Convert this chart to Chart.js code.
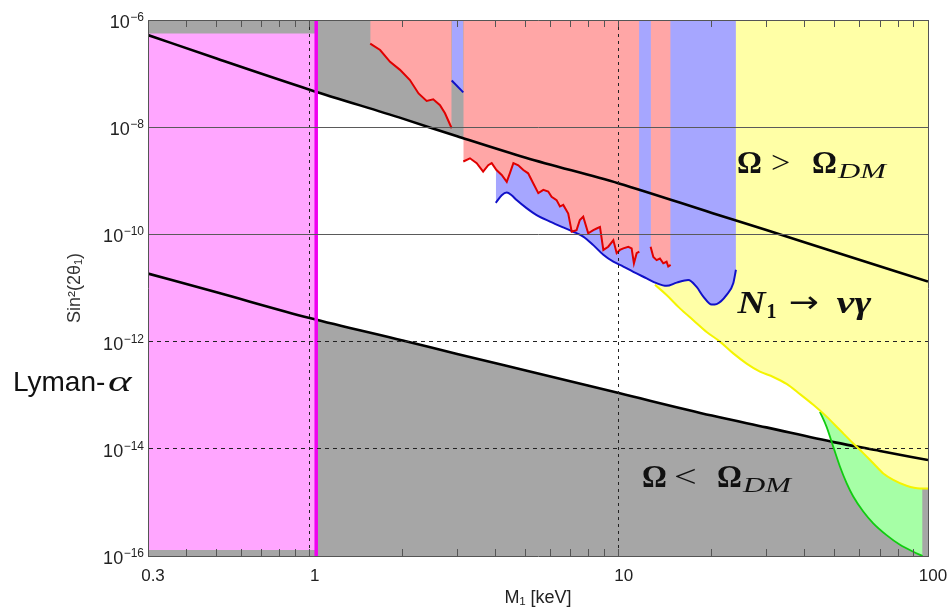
<!DOCTYPE html>
<html>
<head>
<meta charset="utf-8">
<title>Sterile neutrino dark matter constraints</title>
<script src="https://cdn.jsdelivr.net/npm/chart.js@4.4.1/dist/chart.umd.min.js"></script>
<style>
  html, body { margin: 0; padding: 0; background: #fff; }
  #wrap { position: relative; width: 949px; height: 609px; }
</style>
</head>
<body>
<div id="wrap"><canvas id="dmChart"></canvas></div>
<script>
// M1 in keV on x, sin^2(2 theta1) on y. y values are kept as log10 exponents.
var xMin = 0.3, xMax = 100;
var yMin = 1e-16, yMax = 1e-6;

var xTicks = [0.3, 0.4, 0.5, 0.6, 0.7, 0.8, 0.9, 1, 2, 3, 4, 5, 6, 7, 8, 9,
              10, 20, 30, 40, 50, 60, 70, 80, 90, 100];
var xLabelVals = [0.3, 1, 10, 100];
var yTickExps = [-6, -8, -10, -12, -14, -16];

// Omega = Omega_DM lines (upper and lower)
var upperX   = [0.3, 0.5, 1, 2, 3, 5, 10, 20, 30, 50, 100];
var upperExp = [-6.28, -6.72, -7.30, -7.84, -8.17, -8.57, -9.05, -9.60, -9.92, -10.33, -10.88];
var lowerX   = [0.3, 0.5, 1, 2, 3, 5, 10, 20, 30, 50, 70, 100];
var lowerExp = [-10.73, -11.08, -11.56, -11.98, -12.23, -12.54, -12.96, -13.38, -13.60, -13.88, -14.04, -14.21];

// Lyman-alpha box and its edge
var lymanX = [0.3, 1.05];
var lymanExp = [-6.25, -6.25];
var lymanBottomExp = -15.89;
var lymanEdgeX = [1.05, 1.05];
var lymanEdgeExp = [-6, -16];

// X-ray bounds (red)
var red1X   = [1.57, 1.69, 1.82, 1.96, 2.11, 2.25, 2.39, 2.51, 2.64, 2.74, 2.88];
var red1Exp = [-6.44, -6.56, -6.78, -6.93, -7.12, -7.37, -7.51, -7.48, -7.59, -7.74, -8.02];
var red2X   = [3.14, 3.30, 3.47, 3.64, 3.78, 3.88, 4.02, 4.18, 4.34, 4.44, 4.56, 4.73, 4.91, 5.09,
               5.29, 5.49, 5.70, 5.91, 6.06, 6.29, 6.45, 6.61, 6.86, 7.04, 7.30, 7.48, 7.67, 7.96,
               8.27, 8.48, 8.69, 8.91, 9.24, 9.60, 9.84, 10.08, 10.34, 10.73, 11.00, 11.19, 11.42, 11.65];
var red2Exp = [-8.64, -8.58, -8.67, -8.83, -8.71, -8.67, -8.80, -8.89, -9.02, -8.86, -8.67, -8.71, -8.80, -8.86,
               -9.05, -9.23, -9.17, -9.20, -9.30, -9.36, -9.48, -9.45, -9.61, -9.95, -9.92, -9.73, -9.67, -9.98,
               -9.92, -9.89, -9.86, -10.29, -10.23, -10.11, -10.35, -10.29, -10.26, -10.23, -10.26, -10.54, -10.35, -10.32];
var red3X   = [12.67, 12.93, 13.25, 13.58, 13.92, 14.27, 14.45, 14.71];
var red3Exp = [-10.23, -10.42, -10.48, -10.45, -10.54, -10.51, -10.60, -10.57];

// X-ray bounds (blue)
var blue1X   = [2.88, 3.14];
var blue1Exp = [-7.13, -7.35];
var blue2X   = [4.00, 4.18, 4.34, 4.50, 4.67, 5.03, 5.42, 5.99, 6.61, 7.12, 7.67, 8.27, 8.91, 9.60,
                10.34, 11.14, 12.30, 13.25, 14.27, 15.38, 16.77, 17.85, 18.76, 19.96, 20.72, 22.32, 23.45, 23.92];
var blue2Exp = [-9.41, -9.27, -9.22, -9.27, -9.36, -9.51, -9.64, -9.76, -9.87, -9.95, -10.04, -10.20, -10.38, -10.51,
                -10.60, -10.70, -10.82, -10.91, -10.96, -10.90, -10.85, -10.98, -11.16, -11.31, -11.30, -11.13, -10.91, -10.66];

// N1 -> nu gamma (yellow) and the green band
var yellowX   = [13.09, 14.27, 15.76, 17.41, 19.23, 21.23, 23.45, 25.90, 28.60, 31.59, 34.88, 38.53,
                 42.56, 46.99, 51.89, 57.31, 61.74, 66.52, 71.68, 77.21, 85.25, 94.17, 100];
var yellowExp = [-10.94, -11.13, -11.38, -11.60, -11.82, -12.00, -12.22, -12.41, -12.56, -12.66, -12.79, -12.98,
                 -13.18, -13.40, -13.65, -13.90, -14.08, -14.27, -14.46, -14.58, -14.69, -14.74, -14.74];
var greenX   = [44.72, 46.99, 49.37, 51.89, 54.54, 57.31, 61.74, 66.52, 73.45, 81.15, 89.62, 96.03];
var greenExp = [-13.31, -13.59, -13.96, -14.33, -14.64, -14.89, -15.17, -15.39, -15.61, -15.79, -15.92, -16.0];

function toPoints(xs, exps) {
    return xs.map(function(x, i) { return { x: x, y: Math.pow(10, exps[i]) }; });
}

function curve(label, xs, exps, line, area, fill, width, smooth) {
    return {
        label: label,
        data: toPoints(xs, exps),
        borderColor: line,
        backgroundColor: area,
        borderWidth: width,
        fill: fill,
        pointRadius: 0,
        cubicInterpolationMode: smooth ? 'monotone' : 'default',
        tension: 0
    };
}

var gray = '#a6a6a6';

// first dataset ends up on top
var datasets = [
    curve('X-ray 1', red1X, red1Exp, '#e00000', '#ffa6a6', 'end', 2, false),
    curve('X-ray 2', red2X, red2Exp, '#e00000', '#ffa6a6', 'end', 2, false),
    curve('X-ray 3', red3X, red3Exp, '#e00000', '#ffa6a6', 'end', 2, false),
    curve('X-ray 4', blue1X, blue1Exp, '#1010c8', '#a6a6ff', 'end', 2, false),
    curve('X-ray 5', blue2X, blue2Exp, '#1010c8', '#a6a6ff', 'end', 2, true),
    curve('N1 decay', yellowX, yellowExp, '#f4f400', '#ffffa6', 'end', 2, true),
    curve('Green band', greenX, greenExp, '#10cc10', '#a6ffa6', 'end', 1.8, true),
    curve('Lyman edge', lymanEdgeX, lymanEdgeExp, '#f000f0', 'rgba(0,0,0,0)', false, 3.5, false),
    curve('Lyman-alpha', lymanX, lymanExp, 'rgba(0,0,0,0)', '#ffa6ff', { value: Math.pow(10, lymanBottomExp) }, 0, false),
    curve('Omega upper', upperX, upperExp, '#000', gray, 'end', 2.6, true),
    curve('Omega lower', lowerX, lowerExp, '#000', gray, 'start', 2.6, true)
];

function tickExp(ctx) {
    return ctx.tick ? Math.round(Math.log10(ctx.tick.value)) : null;
}
function isDecadeLine(ctx) {
    if (!ctx.tick) return false;
    var v = ctx.tick.value;
    return Math.abs(v - 1) < 1e-9 || Math.abs(v - 10) < 1e-9;
}

function setXTicks(scale) {
    scale.ticks = xTicks.map(function(v) { return { value: v }; });
}

// labels and annotations drawn over the plot
var overlayText = {
    id: 'overlayText',
    afterDraw: function(chart) {
        var ctx = chart.ctx;
        var xs = chart.scales.x, ys = chart.scales.y;
        var left = chart.chartArea.left;
        ctx.save();
        ctx.fillStyle = '#222';
        ctx.textBaseline = 'alphabetic';

        // y tick labels 10^-n
        yTickExps.forEach(function(e) {
            var py = ys.getPixelForValue(Math.pow(10, e));
            var sup = '\u2212' + Math.abs(e);
            ctx.textAlign = 'right';
            ctx.font = '12px "Liberation Sans"';
            var w = ctx.measureText(sup).width;
            ctx.fillText(sup, left - 4, py + 1);
            ctx.font = '18px "Liberation Sans"';
            ctx.fillText('10', left - 4 - w - 0.5, py + 8);
        });

        ctx.textAlign = 'left';
        function run(x, y, parts) {
            parts.forEach(function(p) {
                ctx.save();
                ctx.font = p.font;
                ctx.translate(x + (p.dx || 0), y + (p.dy || 0));
                ctx.scale(p.sx || 1, 1);
                ctx.fillText(p.t, 0, 0);
                ctx.restore();
            });
        }
        var bold = 'bold 31px "Liberation Serif"';
        var reg = '31px "Liberation Serif"';
        var sub = 'italic 22px "Liberation Serif"';

        ctx.fillStyle = '#111';
        run(xs.getPixelForValue(24.1), ys.getPixelForValue(Math.pow(10, -8.854)), [
            { t: '\u03A9', font: bold },
            { t: '>', font: reg, dx: 34, sx: 1.1 },
            { t: '\u03A9', font: bold, dx: 75 },
            { t: 'DM', font: sub, dx: 101, dy: 5, sx: 1.4 }
        ]);
        run(xs.getPixelForValue(24.2), ys.getPixelForValue(Math.pow(10, -11.466)), [
            { t: 'N', font: 'bold italic 31px "Liberation Serif"', sx: 1.25 },
            { t: '1', font: 'bold 20px "Liberation Serif"', dx: 29, dy: 5 },
            { t: '\u2192', font: '30px "DejaVu Sans"', dx: 51, dy: -1, sx: 1.2 },
            { t: '\u03BD\u03B3', font: 'bold italic 31px "Liberation Serif"', dx: 99, sx: 1.3 }
        ]);
        run(xs.getPixelForValue(11.88), ys.getPixelForValue(Math.pow(10, -14.713)), [
            { t: '\u03A9', font: bold },
            { t: '<', font: reg, dx: 32, sx: 1.3 },
            { t: '\u03A9', font: bold, dx: 75 },
            { t: 'DM', font: sub, dx: 101, dy: 5, sx: 1.4 }
        ]);

        run(13, ys.getPixelForValue(Math.pow(10, -12.92)), [
            { t: 'Lyman-', font: '28px "Liberation Sans"' },
            { t: '\u03B1', font: 'italic 30px "Liberation Serif"', dx: 95, sx: 1.5 }
        ]);
        ctx.restore();
    }
};

var chart = new Chart(document.getElementById('dmChart'), {
    type: 'line',
    data: { datasets: datasets },
    options: {
        responsive: true,
        maintainAspectRatio: false,
        animation: false,
        layout: { padding: { top: 20, right: 21, bottom: 0, left: 0 } },
        plugins: {
            legend: { display: false },
            tooltip: { enabled: false },
            filler: { drawTime: 'beforeDatasetsDraw' }
        },
        scales: {
            x: {
                type: 'logarithmic',
                position: 'bottom',
                min: xMin,
                max: xMax,
                afterBuildTicks: setXTicks,
                afterFit: function(s) { s.height = 53; s.paddingLeft = 0; s.paddingRight = 0; },
                grid: {
                    z: 1,
                    color: function(ctx) { return isDecadeLine(ctx) ? '#222' : 'rgba(0,0,0,0)'; },
                    lineWidth: 1,
                    tickLength: -7,
                    tickColor: '#555'
                },
                border: {
                    z: 1,
                    color: '#555',
                    dash: function(ctx) { return isDecadeLine(ctx) ? [3, 4] : []; }
                },
                ticks: {
                    autoSkip: false,
                    maxRotation: 0,
                    padding: 17,
                    labelOffset: 5,
                    color: '#222',
                    font: { family: 'Liberation Sans', size: 17 },
                    callback: function(v) { return xLabelVals.indexOf(v) >= 0 ? String(v) : ''; }
                },
                title: {
                    display: true,
                    text: 'M\u2081 [keV]',
                    color: '#222',
                    font: { family: 'Liberation Sans', size: 18 },
                    padding: { top: 0, bottom: 0 }
                }
            },
            x2: {
                type: 'logarithmic',
                position: 'top',
                min: xMin,
                max: xMax,
                afterBuildTicks: setXTicks,
                afterFit: function(s) { s.height = 0; s.paddingLeft = 0; s.paddingRight = 0; },
                grid: { z: 1, drawOnChartArea: false, tickLength: -7, tickColor: '#555' },
                border: { z: 1, color: '#555' },
                ticks: { display: false, autoSkip: false }
            },
            y: {
                type: 'logarithmic',
                position: 'left',
                min: yMin,
                max: yMax,
                afterBuildTicks: function(s) {
                    s.ticks = yTickExps.map(function(e) { return { value: Math.pow(10, e) }; });
                },
                afterFit: function(s) { s.width = 148; s.paddingTop = 0; s.paddingBottom = 0; },
                grid: {
                    z: 1,
                    drawTicks: false,
                    color: function(ctx) {
                        var e = tickExp(ctx);
                        if (e === -8 || e === -10) return '#5a5a5a';
                        if (e === -12 || e === -14) return '#222';
                        return 'rgba(0,0,0,0)';
                    },
                    lineWidth: 1
                },
                border: {
                    z: 1,
                    color: '#555',
                    dash: function(ctx) {
                        var e = tickExp(ctx);
                        return (e === -12 || e === -14) ? [4, 4] : [];
                    }
                },
                ticks: { display: false },
                title: {
                    display: true,
                    text: 'Sin\u00B2(2\u03B8\u2081)',
                    color: '#333',
                    font: { family: 'Liberation Sans', size: 18 },
                    padding: { top: 64, bottom: 0 }
                }
            },
            y2: {
                type: 'logarithmic',
                position: 'right',
                min: yMin,
                max: yMax,
                afterFit: function(s) { s.width = 0; },
                grid: { drawOnChartArea: false, drawTicks: false },
                border: { z: 1, color: '#555' },
                ticks: { display: false }
            }
        }
    },
    plugins: [overlayText]
});
</script>
</body>
</html>
